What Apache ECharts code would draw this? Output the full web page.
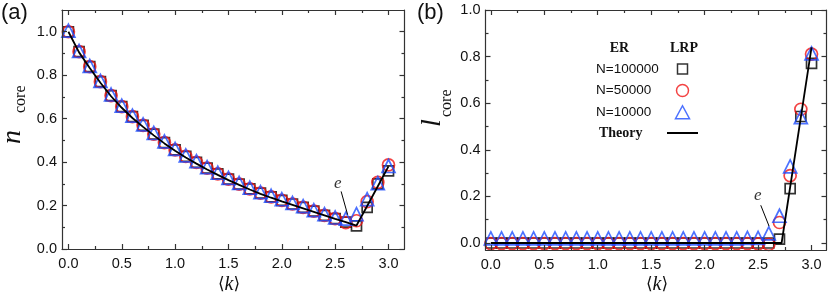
<!DOCTYPE html>
<html><head><meta charset="utf-8">
<script src="https://cdn.jsdelivr.net/npm/echarts@6/dist/echarts.min.js"></script>
<style>html,body{margin:0;padding:0;background:#fff}#c{width:831px;height:297px}</style>
</head><body><div id="c"></div>
<script>
// ---------- data ----------
const kValues = [0,0.1,0.2,0.3,0.4,0.5,0.6,0.7,0.8,0.9,1.0,1.1,1.2,1.3,1.4,1.5,1.6,1.7,1.8,1.9,2.0,2.1,2.2,2.3,2.4,2.5,2.6,2.7,2.8,2.9,3.0];
// panel (a): n_core
const nSquare   = [1.0,0.908,0.839,0.770,0.706,0.655,0.609,0.569,0.529,0.490,0.456,0.426,0.399,0.372,0.346,0.322,0.299,0.277,0.257,0.240,0.224,0.207,0.192,0.174,0.155,0.140,0.124,0.106,0.192,0.300,0.360];
const nCircle   = [1.0,0.908,0.839,0.770,0.706,0.655,0.609,0.569,0.529,0.490,0.456,0.426,0.399,0.372,0.346,0.322,0.299,0.277,0.257,0.240,0.224,0.207,0.192,0.174,0.155,0.140,0.121,0.130,0.218,0.307,0.387];
const nTriangle = [1.005,0.912,0.843,0.774,0.711,0.660,0.614,0.574,0.534,0.495,0.461,0.431,0.404,0.377,0.351,0.327,0.304,0.282,0.262,0.245,0.229,0.212,0.197,0.179,0.160,0.145,0.140,0.160,0.230,0.303,0.382];
const nTheory   = [1.0,0.905,0.833,0.765,0.703,0.650,0.603,0.562,0.523,0.486,0.452,0.421,0.393,0.366,0.341,0.317,0.295,0.274,0.254,0.236,0.219,0.203,0.187,0.171,0.155,0.139,0.124,0.108,0.198,0.289,0.380];
// panel (b): l_core
const lSquare   = [0,0,0,0,0,0,0,0,0,0,0,0,0,0,0,0,0,0,0,0,0,0,0,0,0,0,0,0.017,0.233,0.543,0.771];
const lCircle   = [-0.003,-0.003,-0.003,-0.003,-0.003,-0.003,-0.003,-0.003,-0.003,-0.003,-0.003,-0.003,-0.003,-0.003,-0.003,-0.003,-0.003,-0.003,-0.003,-0.003,-0.003,-0.003,-0.003,-0.003,-0.003,-0.004,-0.006,0.088,0.289,0.574,0.811];
const lTriangle = [0.02,0.02,0.02,0.02,0.02,0.02,0.02,0.02,0.02,0.02,0.02,0.02,0.02,0.02,0.02,0.02,0.02,0.02,0.02,0.02,0.02,0.02,0.02,0.02,0.022,0.022,0.041,0.117,0.329,0.540,0.814];
const lTheoryK  = [0, 2.72, 3.0];
const lTheory   = [0, 0, 0.84];
// ticks
const xTicks      = [0,0.5,1.0,1.5,2.0,2.5,3.0];
const xMinorTicks = [0.25,0.75,1.25,1.75,2.25,2.75];
const yTicks      = [0,0.2,0.4,0.6,0.8,1.0];
const yMinorTicks = [0.1,0.3,0.5,0.7,0.9];
const legendNames = ['N=100000','N=50000','N=10000','Theory'];

// ---------- helpers ----------
const AX = '#333';
const pairs = (xs, ys) => xs.map((x, i) => [x, ys[i]]);
function axesFor(dim, grid, min, max, major, minor, labelFmt) {
  const first = dim === 'x' ? 'bottom' : 'left';
  const second = dim === 'x' ? 'top' : 'right';
  const base = {type:'value', gridIndex:grid, min:min, max:max, splitLine:{show:false}, z:5};
  const mk = (pos, ticks, len, line, label) => Object.assign({}, base, {
    position: pos,
    axisLine: {show: line, onZero:false, lineStyle:{color:AX, width:1.2}},
    axisTick: {show:true, inside:true, length:len, customValues:ticks, lineStyle:{color:AX, width:1.2}},
    axisLabel: label ? {show:true, customValues:ticks, formatter:labelFmt, color:'#111',
                        fontFamily:'Liberation Sans, Arial', fontSize:14.5, margin: dim==='x'?7:5}
                     : {show:false}
  });
  return [
    mk(first, major, 5, true, true),
    mk(first, minor, 3, false, false),
    mk(second, major, 5, true, false),
    mk(second, minor, 3, false, false)
  ];
}
const fmt = v => v.toFixed(1);

const xAxes = [].concat(
  axesFor('x', 0, -0.06, 3.15, xTicks, xMinorTicks, fmt),
  axesFor('x', 1, -0.05, 3.14, xTicks, xMinorTicks, fmt));
const yAxes = [].concat(
  axesFor('y', 0, 0, 1.1, yTicks, yMinorTicks, fmt),
  axesFor('y', 1, -0.03, 1.0, yTicks, yMinorTicks, fmt));

const RED = '#f01414', BLUE = '#1f4dff';
function markerSeries(name, grid, data, symbol, size, color) {
  return {name:name, type:'scatter', xAxisIndex:grid*4, yAxisIndex:grid*4, data:data,
    symbol:symbol, symbolSize:size, silent:true,
    itemStyle:{color:'rgba(0,0,0,0)', borderColor:color, borderWidth:1.7}};
}
function theorySeries(grid, data) {
  return {name:'Theory', type:'line', xAxisIndex:grid*4, yAxisIndex:grid*4, data:data,
    symbol:'none', showSymbol:false, silent:true, z:4,
    itemStyle:{color:'#000'},
    lineStyle:{color:'#000', width:1.8}};
}
function eSeries(grid, labelPos, from, to) {
  return {type:'scatter', xAxisIndex:grid*4, yAxisIndex:grid*4, data:[labelPos], symbolSize:0, silent:true, z:6,
    itemStyle:{color:'rgba(0,0,0,0)'},
    label:{show:true, position:'inside', formatter:'e', color:'#000', fontFamily:'Liberation Serif, Times New Roman',
           fontStyle:'italic', fontSize:17},
    markLine:{silent:true, symbol:['none','arrow'], symbolSize:[0,10], precision:3,
      lineStyle:{color:'#000', width:1, type:'solid'}, label:{show:false},
      data:[[{coord:from},{coord:to}]]}};
}

const series = [
  markerSeries('N=100000', 0, pairs(kValues, nSquare), 'rect', 10, '#000'),
  markerSeries('N=50000', 0, pairs(kValues, nCircle), 'circle', 12, RED),
  markerSeries('N=10000', 0, pairs(kValues, nTriangle), 'triangle', 13, BLUE),
  theorySeries(0, pairs(kValues, nTheory)),
  eSeries(0, [2.524, 0.30], [2.556, 0.265], [2.617, 0.158]),
  markerSeries('N=100000', 1, pairs(kValues, lSquare), 'rect', 10, '#000'),
  markerSeries('N=50000', 1, pairs(kValues, lCircle), 'circle', 12, RED),
  markerSeries('N=10000', 1, pairs(kValues, lTriangle), 'triangle', 13, BLUE),
  theorySeries(1, pairs(lTheoryK, lTheory)),
  eSeries(1, [2.497, 0.205], [2.525, 0.162], [2.603, 0.072])
];

// legend: one component per row so that rows sit exactly; icon centred at x=682.5
const ICON_C = 682.5;
const legendRows = [
  {name:legendNames[0], cy:70,   iw:10, ih:10, icon:'rect',     left:596, serif:false},
  {name:legendNames[1], cy:91.5, iw:12, ih:12, icon:'circle',   left:596, serif:false},
  {name:legendNames[2], cy:113,  iw:14, ih:13, icon:'triangle', left:596, serif:false},
  {name:legendNames[3], cy:134,  iw:31, ih:2,  icon:'rect',     left:599, serif:true}
];
const legends = legendRows.map(r => {
  const w = ICON_C - r.iw / 2 - 5 - r.left;
  const isLine = r.serif;
  return {
    data:[{name:r.name, icon:r.icon}], orient:'horizontal', align:'right', left:r.left, top:r.cy - 8,
    padding:0, itemGap:0, itemWidth:r.iw, itemHeight:r.ih, selectedMode:false,
    itemStyle: isLine ? {color:'#000', borderWidth:0} : {borderWidth:1.5},
    formatter: n => '{t|' + n + '}',
    textStyle:{rich:{t: r.serif
      ? {width:w, align:'left', fontFamily:'Liberation Serif, Times New Roman', fontWeight:'bold', fontSize:14, lineHeight:16, color:'#111'}
      : {width:w, align:'left', fontFamily:'Liberation Sans, Arial', fontSize:13.5, lineHeight:16, color:'#111'}}}
  };
});

const serifB = 'Liberation Serif, Times New Roman';
const graphic = [
  {type:'text', left:1, top:2, style:{text:'(a)', fontFamily:'Liberation Sans, Arial', fontSize:22, fill:'#111'}},
  {type:'text', left:417, top:2, style:{text:'(b)', fontFamily:'Liberation Sans, Arial', fontSize:22, fill:'#111'}},
  // y names (rotated)
  {type:'text', x:13, y:144, rotation:Math.PI/2, style:{text:'n', fontFamily:serifB, fontStyle:'italic', fontSize:28, fill:'#111', align:'left', verticalAlign:'middle'}},
  {type:'text', x:21, y:113, rotation:Math.PI/2, style:{text:'core', fontFamily:serifB, fontSize:16, fill:'#111', align:'left', verticalAlign:'middle'}},
  {type:'text', x:433, y:127, rotation:Math.PI/2, style:{text:'l', fontFamily:serifB, fontStyle:'italic', fontSize:28, fill:'#111', align:'left', verticalAlign:'middle'}},
  {type:'text', x:447, y:117, rotation:Math.PI/2, style:{text:'core', fontFamily:serifB, fontSize:16, fill:'#111', align:'left', verticalAlign:'middle'}},
  // x names
  {type:'text', x:229, y:285, style:{text:'{b|\u27E8}{k|k}{b|\u27E9}', align:'center', verticalAlign:'middle',
     rich:{b:{fontFamily:'DejaVu Serif', fontSize:17, fill:'#111'}, k:{fontFamily:serifB, fontStyle:'italic', fontSize:20, fill:'#111'}}}},
  {type:'text', x:657, y:285, style:{text:'{b|\u27E8}{k|k}{b|\u27E9}', align:'center', verticalAlign:'middle',
     rich:{b:{fontFamily:'DejaVu Serif', fontSize:17, fill:'#111'}, k:{fontFamily:serifB, fontStyle:'italic', fontSize:20, fill:'#111'}}}},
  // legend headers
  {type:'text', x:619.5, y:48, style:{text:'ER', fontFamily:serifB, fontWeight:'bold', fontSize:14, fill:'#111', align:'center', verticalAlign:'middle'}},
  {type:'text', x:684, y:48, style:{text:'LRP', fontFamily:serifB, fontWeight:'bold', fontSize:14, fill:'#111', align:'center', verticalAlign:'middle'}}
];

const chart = echarts.init(document.getElementById('c'), null, {renderer:'canvas'});
chart.setOption({
  animation:false,
  backgroundColor:'#fff',
  grid:[
    {left:62, top:10, right:426.5, bottom:48},
    {left:485.5, top:10, right:4.5, bottom:47}
  ],
  xAxis:xAxes,
  yAxis:yAxes,
  legend:legends,
  series:series,
  graphic:graphic
});
</script></body></html>
